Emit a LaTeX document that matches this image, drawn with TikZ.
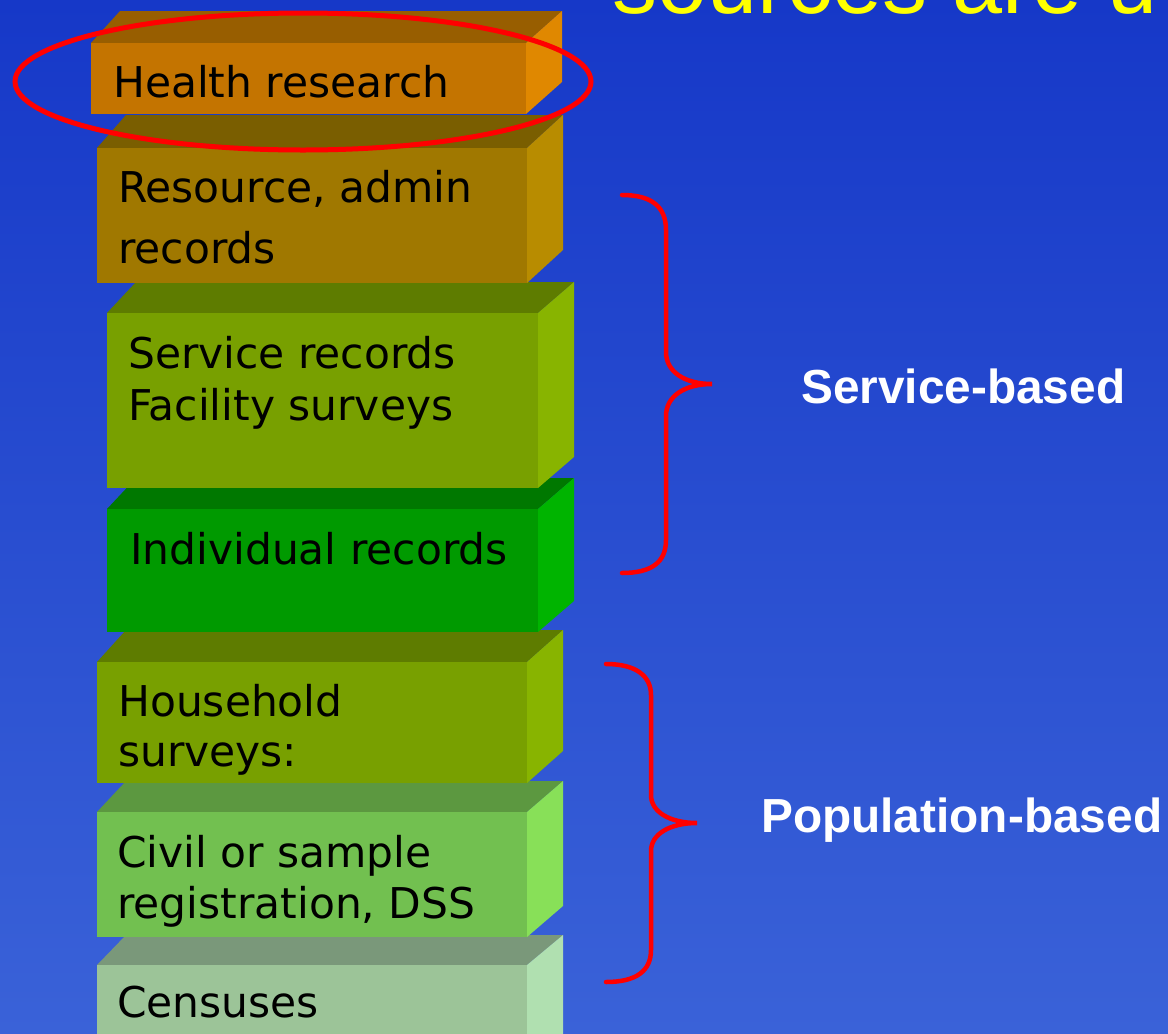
\documentclass[tikz,border=0pt]{standalone}
\usepackage{fontspec}
\setmainfont{DejaVu Sans}
\newfontfamily\headfont{Liberation Sans}
\newfontfamily\tagfont{Liberation Sans}[BoldFont={Liberation Sans Bold}]
\definecolor{bgtop}{HTML}{1638C8}
\definecolor{bgbot}{HTML}{3A62D8}
% front / top / side tones of each layer
\definecolor{hrF}{HTML}{C47400}\definecolor{hrT}{HTML}{985E00}\definecolor{hrS}{HTML}{E08800}
\definecolor{raF}{HTML}{A07800}\definecolor{raT}{HTML}{7A5E00}\definecolor{raS}{HTML}{B88C00}
\definecolor{olF}{HTML}{78A000}\definecolor{olT}{HTML}{5E7C00}\definecolor{olS}{HTML}{88B400}
\definecolor{irF}{HTML}{009A00}\definecolor{irT}{HTML}{007800}\definecolor{irS}{HTML}{00B400}
\definecolor{cvF}{HTML}{72C050}\definecolor{cvT}{HTML}{5C9840}\definecolor{cvS}{HTML}{88E058}
\definecolor{ceF}{HTML}{9CC498}\definecolor{ceT}{HTML}{7A987A}\definecolor{ceS}{HTML}{B0E0B0}
\definecolor{marker}{HTML}{FF0000}
\definecolor{headyellow}{HTML}{FFFF00}

% \layer{left}{top}{right}{bottom}{back y}{colour prefix}
\newcommand{\layer}[6]{%
  \fill[#6T] (#1,#2) -- (#1+29,#5) -- (#3+36,#5) -- (#3,#2) -- cycle;
  \fill[#6S] (#3,#2) -- (#3+36,#5) -- (#3+36,#4-#2+#5) -- (#3,#4) -- cycle;
  \fill[#6F] (#1,#2) rectangle (#3,#4);
}

\begin{document}
\begin{tikzpicture}[x=1pt,y=-1pt,
  label/.style={anchor=base west,inner sep=0pt,text=black,
    font=\fontsize{42.4}{50}\selectfont},
  tag/.style={anchor=base west,inner sep=0pt,text=white,
    font=\tagfont\bfseries\fontsize{47.8}{56}\selectfont},
  bracket/.style={draw=marker,line width=4.5pt,line cap=round}]
\useasboundingbox (0,0) rectangle (1168,1034);
\clip (0,0) rectangle (1168,1034);
\shade[top color=bgtop,bottom color=bgbot] (0,0) rectangle (1168,1034);

% heading, running off the top and right edges
\node[anchor=base west,inner sep=0pt,text=headyellow,
  font=\headfont\fontsize{90}{100}\selectfont] (head) at (612,13) {sources are u};

% stacked layers, lowest first
\layer{97}{965}{527}{1080}{935}{ce}
\layer{97}{812}{527}{937}{781}{cv}
\layer{97}{662}{527}{783}{630}{ol}
\layer{107}{509}{538}{632}{478}{ir}
\layer{107}{313}{538}{488}{282}{ol}
\layer{97}{148}{527}{283}{115}{ra}
\layer{91}{43}{526}{114}{11}{hr}

% layer captions
\node[label] (hr1) at (113,97) {Health research};
\node[label] (ra1) at (118,202) {Resource, admin};
\node[label] (ra2) at (118,263) {records};
\node[label] (sv1) at (128,368) {Service records};
\node[label] (sv2) at (128,420) {Facility surveys};
\node[label] (ir1) at (130,564) {Individual records};
\node[label] (hh1) at (118,716) {Household};
\node[label] (hh2) at (118,766) {surveys:};
\node[label] (cv1) at (117,867) {Civil or sample};
\node[label] (cv2) at (117,918) {registration, DSS};
\node[label] (ce1) at (117,1017) {Censuses};

% highlight ring
\draw[draw=marker,line width=5pt] (303,81.5) ellipse [x radius=288pt,y radius=68.5pt];

% group braces
\coordinate (sbTop) at (622,195);
\coordinate (sbTip) at (712,384);
\coordinate (sbBot) at (622,573);
\draw[bracket] (sbTop) .. controls (652,195) and (666,207) .. (666,230)
  -- (666,352) .. controls (666,372) and (685,384) .. (sbTip)
  .. controls (685,384) and (666,396) .. (666,416)
  -- (666,540) .. controls (666,562) and (652,573) .. (sbBot);

\coordinate (pbTop) at (606,664);
\coordinate (pbTip) at (697,823);
\coordinate (pbBot) at (606,982);
\draw[bracket] (pbTop) .. controls (636,664) and (651,676) .. (651,695)
  -- (651,795) .. controls (651,812) and (670,823) .. (pbTip)
  .. controls (670,823) and (651,834) .. (651,851)
  -- (651,950) .. controls (651,971) and (636,982) .. (pbBot);

\node[tag] (svc) at (801,403) {Service-based};
\node[tag] (pop) at (761,832) {Population-based};
\end{tikzpicture}
\end{document}
